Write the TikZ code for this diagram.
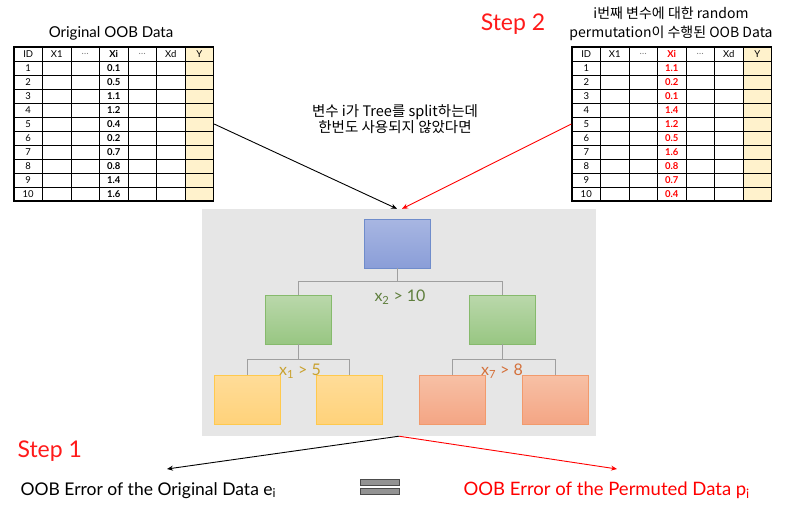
\documentclass[tikz,border=0pt]{standalone}
\usepackage{fontspec}
\setmainfont{Lato}
\newfontfamily\krfont{Noto Sans CJK KR}
\usetikzlibrary{calc}
\usetikzlibrary{arrows.meta}
\usetikzlibrary{positioning}

\definecolor{ycell}{HTML}{FFF2CC}
\definecolor{panelgrey}{HTML}{E6E6E6}
\definecolor{stepred}{HTML}{FF1A1A}
\definecolor{blueT}{HTML}{A8B6E2}
\definecolor{blueB}{HTML}{8A9ED8}
\definecolor{blueD}{HTML}{6F8CCB}
\definecolor{greenT}{HTML}{BAD8AB}
\definecolor{greenB}{HTML}{98C682}
\definecolor{greenD}{HTML}{86BA6C}
\definecolor{yelT}{HTML}{FFDC98}
\definecolor{yelB}{HTML}{FFD27A}
\definecolor{yelD}{HTML}{FFC94D}
\definecolor{oraT}{HTML}{F7C0A5}
\definecolor{oraB}{HTML}{F4A584}
\definecolor{oraD}{HTML}{F29A6C}
\definecolor{lblG}{HTML}{5E7E3C}
\definecolor{lblY}{HTML}{C9A12E}
\definecolor{lblO}{HTML}{D4703A}

\tikzset{
  cell/.style={inner sep=0pt, font=\fontsize{9.5}{11}\selectfont},
  tnode/.style={draw, line width=0.8pt, minimum width=66pt, minimum height=49pt, inner sep=0pt},
  rootbox/.style={tnode, draw=blueD, top color=blueT, bottom color=blueB},
  greenbox/.style={tnode, draw=greenD, top color=greenT, bottom color=greenB},
  yellowbox/.style={tnode, draw=yelD, top color=yelT, bottom color=yelB},
  orangebox/.style={tnode, draw=oraD, top color=oraT, bottom color=oraB},
  branch/.style={draw=gray!75, line width=1pt},
  split/.style={font=\fontsize{16}{18}\selectfont, inner sep=0pt},
  arr/.style={line width=0.9pt, -{Stealth[length=6pt,width=5pt]}}
}

% one OOB table: name, left x, colour of Xi, values
\newcommand{\oobtable}[4]{%
  \fill[ycell] ({#2+6*28.5},47) rectangle ++(28.5,154);
  \foreach \r in {1,...,10} \draw[line width=1pt] (#2,{47+14*\r}) -- ++(199.5,0);
  \foreach \c in {1,...,6} \draw[line width=1pt] ({#2+28.5*\c},47) -- ++(0,154);
  \node[draw, line width=1.3pt, minimum width=199.5pt, minimum height=154pt, inner sep=0pt] (#1) at ({#2+99.75},124) {};
  \foreach \h [count=\c from 0] in {ID,X1,\textcolor{gray}{\ldots},{\textcolor{#3}{\textbf{Xi}}},\textcolor{gray}{\ldots},Xd,Y}
    \node[cell] (#1-h\c) at ({#2+28.5*\c+14.25},54) {\h};
  \foreach \v [count=\r] in {#4} {
    \node[cell] (#1-id\r) at ({#2+14.25},{47+14*\r+7}) {\r};
    \node[cell, font=\fontsize{9.5}{11}\selectfont\bfseries, text=#3] (#1-v\r) at ({#2+3*28.5+14.25},{47+14*\r+7}) {\v};
  }
}

\begin{document}
\begin{tikzpicture}[x=1pt,y=-1pt]
\useasboundingbox (0,0) rectangle (788,504);

% original table
\node[font=\fontsize{15}{18}\selectfont] (ttlO) at (111,33) {Original OOB Data};
\oobtable{tabO}{14}{black}{0.1,0.5,1.1,1.2,0.4,0.2,0.7,0.8,1.4,1.6}

% permuted table
\node[font=\krfont\fontsize{14}{19}\selectfont, align=center] (ttlP) at (671,23.5) {i번째 변수에 대한 random\\permutation이 수행된 OOB Data};
\oobtable{tabP}{572}{red}{1.1,0.2,0.1,1.4,1.2,0.5,1.6,0.8,0.7,0.4}

\node[font=\fontsize{23}{26}\selectfont, text=stepred] (step2) at (513,24) {Step 2};

\node[font=\krfont\fontsize{14.5}{16}\selectfont, align=center] (note) at (395,119) {변수 i가 Tree를 split하는데\\한번도 사용되지 않았다면};

% tree
\node[fill=panelgrey, minimum width=394pt, minimum height=227pt, inner sep=0pt] (panel) at (399,322.5) {};

\node[rootbox] (root) at (397.5,243.5) {};
\node[greenbox] (gL) at (298,319.5) {};
\node[greenbox] (gR) at (502.5,319.5) {};
\node[yellowbox] (yL) at (247,400) {};
\node[yellowbox] (yR) at (349,400) {};
\node[orangebox] (oL) at (452,400) {};
\node[orangebox] (oR) at (555,400) {};

\draw[branch] (root.south) -- ++(0,13) -| (gL.north);
\draw[branch] (root.south) -- ++(0,13) -| (gR.north);
\draw[branch] (gL.south) -- ++(0,15) -| (yL.north);
\draw[branch] (gL.south) -- ++(0,15) -| (yR.north);
\draw[branch] (gR.south) -- ++(0,15) -| (oL.north);
\draw[branch] (gR.south) -- ++(0,15) -| (oR.north);

\node[split, text=lblG] (s1) at (400,297) {x\textsubscript{2} > 10};
\node[split, text=lblY] (s2) at (300,371) {x\textsubscript{1} > 5};
\node[split, text=lblO] (s3) at (502,371) {x\textsubscript{7} > 8};

\draw[arr] (tabO.east) -- ($(panel.north)+(-2,0)$);
\draw[arr, red] (tabP.west) -- ($(panel.north)+(3,0)$);

% results
\node[font=\fontsize{23}{26}\selectfont, text=stepred, anchor=west] (step1) at (14,451) {Step 1};
\node[font=\fontsize{17.5}{20}\selectfont, anchor=base west] (errO) at (17,495) {OOB Error of the Original Data e\textsubscript{i}};
\node[font=\fontsize{18.5}{20}\selectfont, anchor=base west, text=red] (errP) at (460,495) {OOB Error of the Permuted Data p\textsubscript{i}};

\coordinate (endO) at (167,469);
\coordinate (endP) at (617,469);
\draw[arr] (panel.south) -- (endO);
\draw[arr, red] (panel.south) -- (endP);

\node[draw=black!70, fill=gray!85, line width=0.6pt, minimum width=39pt, minimum height=6pt, inner sep=0pt] (eqA) at (379.5,482) {};
\node[draw=black!70, fill=gray!85, line width=0.6pt, minimum width=39pt, minimum height=6pt, inner sep=0pt] (eqB) at (379.5,491) {};

\end{tikzpicture}
\end{document}
